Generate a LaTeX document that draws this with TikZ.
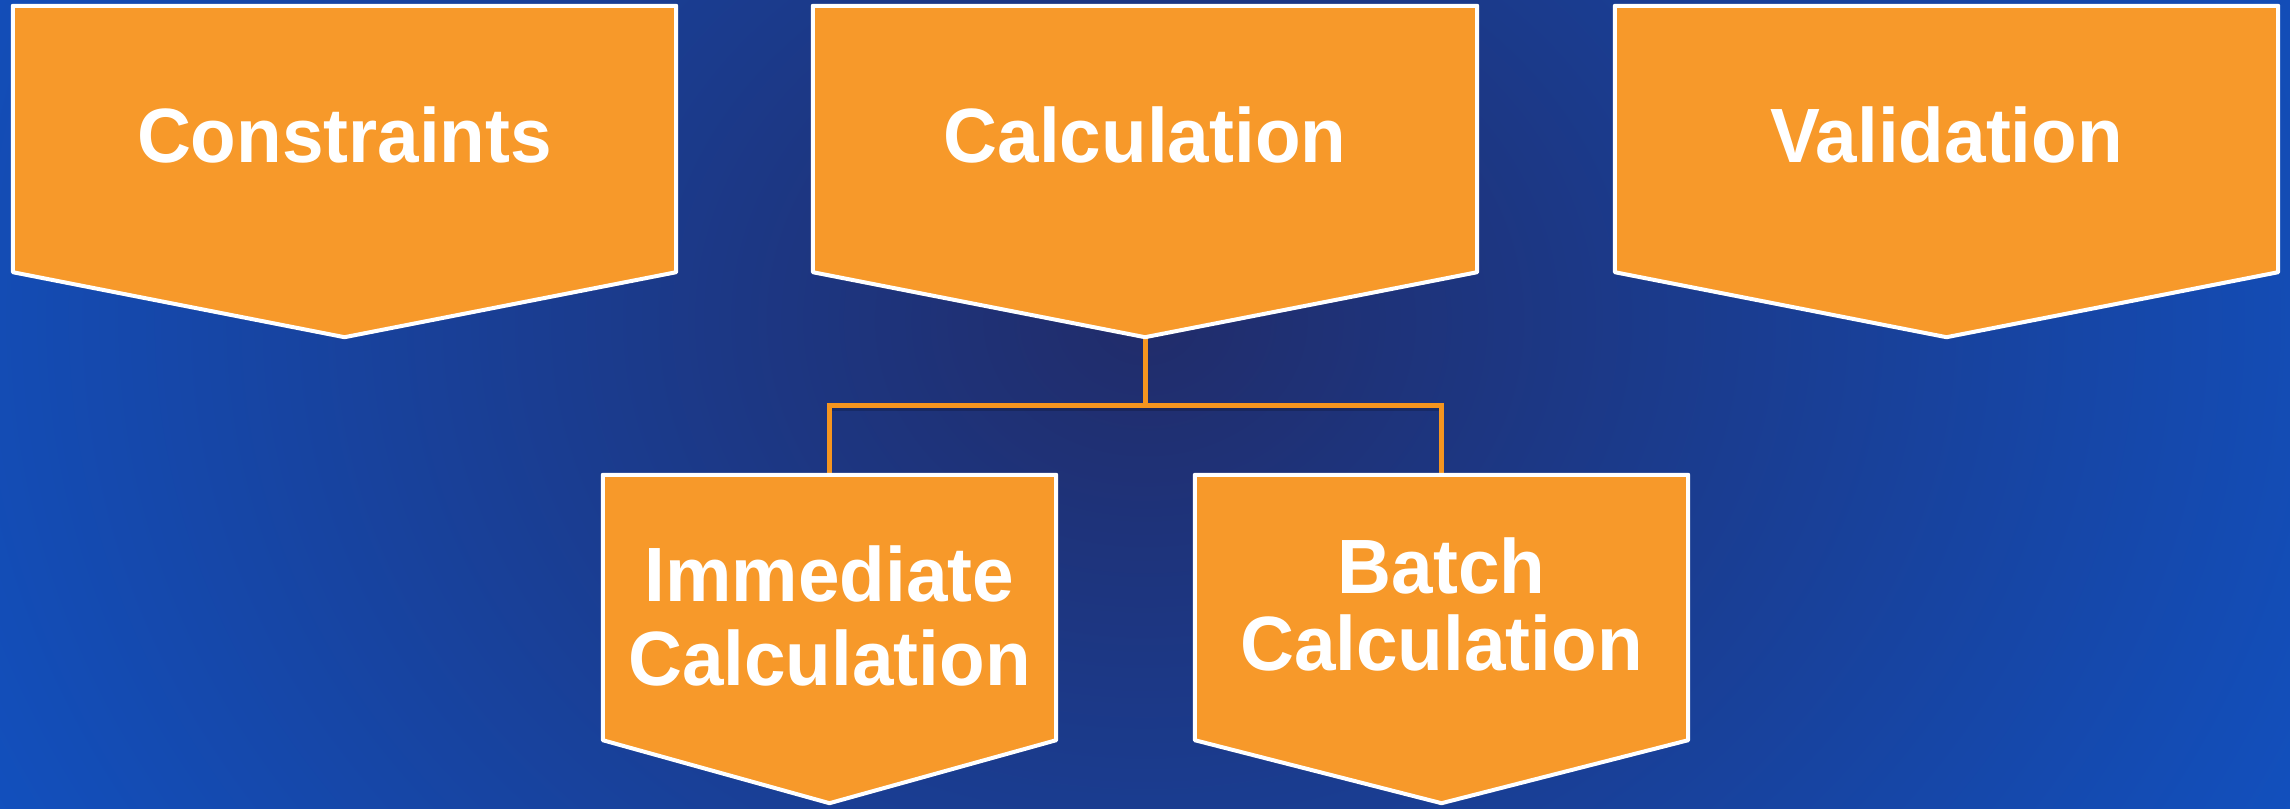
\documentclass[tikz,border=0pt]{standalone}
\usepackage{fontspec}
\usetikzlibrary{calc}
\newfontfamily\boxfont{Liberation Sans}[FakeStretch=0.97]
\definecolor{bgedge}{HTML}{0F57CE}
\definecolor{bgcenter}{HTML}{212C6A}
\definecolor{boxorange}{HTML}{F7992A}
\definecolor{lineorange}{HTML}{F5951F}
\pgfdeclarelayer{back}
\pgfdeclarelayer{mid}
\pgfsetlayers{back,mid,main}
\tikzset{
  chevbox/.style={minimum height=266pt, inner sep=0pt, text=white,
    font=\boxfont\bfseries\fontsize{77}{83}\selectfont},
  chevshape/.style={fill=boxorange, draw=white, line width=4pt, line join=round},
  link/.style={draw=lineorange, line width=5pt, line join=miter},
  linkshadow/.style={draw=black, opacity=0.18, line width=6pt}
}
\newcommand\chevdraw[2]{%
  \path[chevshape] (#1.north west) -- (#1.north east) -- (#1.south east)
    -- ($(#1.south)+(0,#2)$) -- (#1.south west) -- cycle;}
% one line of text whose baseline lies #1 below the node centre
\newcommand\txtline[2]{\raisebox{-#1}[0pt][0pt]{\makebox[0pt]{#2}}}
\begin{document}
\begin{tikzpicture}[x=1pt,y=-1pt]
\useasboundingbox (0,0) rectangle (2290,808);
\begin{pgfonlayer}{back}
  \fill[bgedge] (0,0) rectangle (2290,808);
  \begin{scope}
    \clip (0,0) rectangle (2290,808);
    \shade[inner color=bgcenter, outer color=bgedge] (1145,320) ellipse (1550 and 1300);
  \end{scope}
\end{pgfonlayer}

\node[chevbox, minimum width=663pt] (cons) at (344.5,139) {\txtline{23pt}{Constraints}};
\node[chevbox, minimum width=664pt] (calc) at (1145,139) {\txtline{23pt}{Calculation}};
\node[chevbox, minimum width=663pt] (vali) at (1946.5,139) {\txtline{23pt}{Validation}};
\node[chevbox, minimum width=453pt, minimum height=265pt] (imm) at (829.5,607.5)
  {\txtline{-6.5pt}{Immediate}\txtline{77.5pt}{Calculation}};
\node[chevbox, minimum width=493pt, minimum height=265pt] (batch) at (1441.5,607.5)
  {\txtline{-14.5pt}{Batch}\txtline{62.5pt}{Calculation}};

\coordinate (calctip) at ($(calc.south)+(0,65)$);
\coordinate (bus) at ($(calctip)+(0,68)$);

\begin{pgfonlayer}{mid}
  \draw[linkshadow] ($(imm.north)+(2,-67)$) -- ($(batch.north)+(2,-67)$);
  \draw[link] (calctip) -- (bus) -| (imm.north);
  \draw[link] (bus) -| (batch.north);
  \chevdraw{cons}{65}
  \chevdraw{calc}{65}
  \chevdraw{vali}{65}
  \chevdraw{imm}{63}
  \chevdraw{batch}{63}
\end{pgfonlayer}
\end{tikzpicture}
\end{document}
